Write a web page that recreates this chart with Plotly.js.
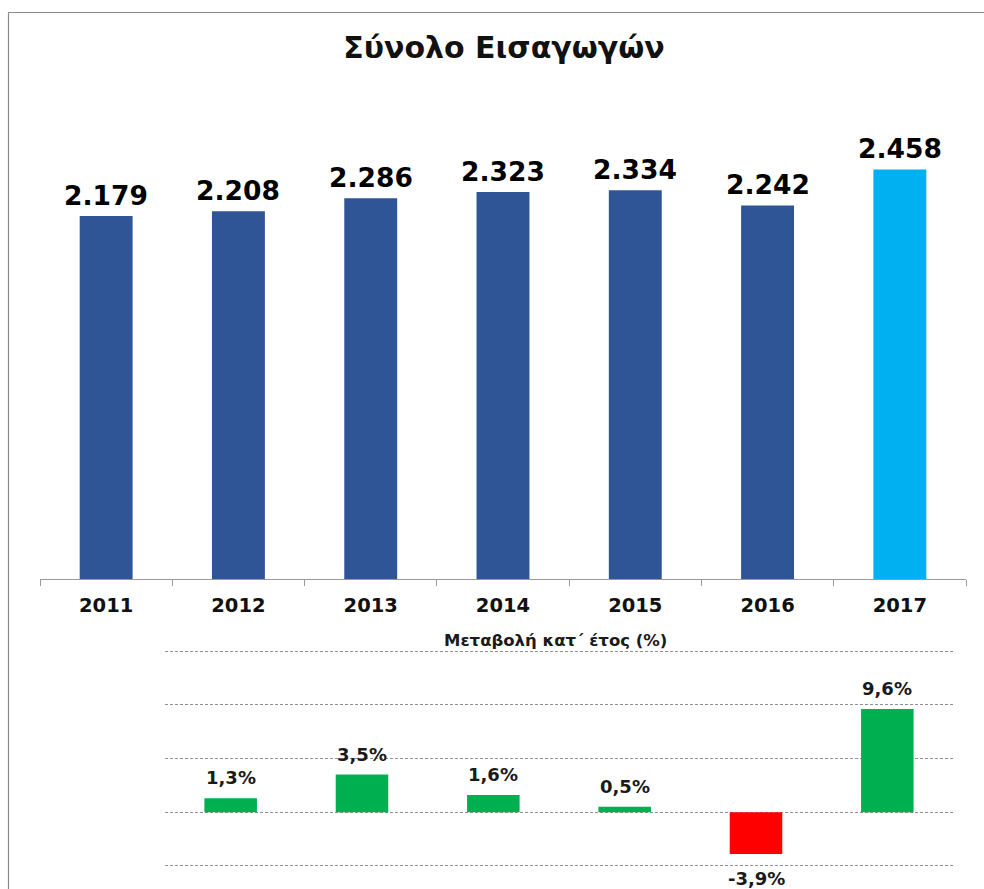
<!DOCTYPE html>
<html>
<head>
<meta charset="utf-8">
<script src="https://cdn.plot.ly/plotly-3.0.1.min.js"></script>
<style>
html,body{margin:0;padding:0;background:#fff;}
#chart{width:984px;height:889px;}
</style>
</head>
<body>
<div id="chart"></div>
<script>
// Data
const years = ["2011","2012","2013","2014","2015","2016","2017"];
const imports = [2179, 2208, 2286, 2323, 2334, 2242, 2458];
const importLabels = ["2.179","2.208","2.286","2.323","2.334","2.242","2.458"];
const changeYears = ["2012","2013","2014","2015","2016","2017"];
const changePct = [1.3, 3.5, 1.6, 0.5, -3.9, 9.6];
const changeLabels = ["1,3%","3,5%","1,6%","0,5%","-3,9%","9,6%"];

const W = 984, H = 889;
const px = x => x / W;
const py = y => (H - y) / H;

const DARK = "#2F5597", LIGHT = "#00B0F0", GREEN = "#00B050", RED = "#FF0000";
const lastIdx = years.length - 1;

const traces = [
  {
    type: "bar", x: years, y: imports, xaxis: "x", yaxis: "y",
    marker: {color: years.map((_, i) => i === lastIdx ? LIGHT : DARK)},
    hoverinfo: "skip", showlegend: false
  },
  {
    type: "bar", x: changeYears, y: changePct, xaxis: "x2", yaxis: "y2",
    marker: {color: changePct.map(v => v < 0 ? RED : GREEN)},
    hoverinfo: "skip", showlegend: false
  }
];

const annotations = [];
years.forEach((yr, i) => {
  annotations.push({
    x: i, y: imports[i], xref: "x", yref: "y", text: "<b>" + importLabels[i] + "</b>",
    showarrow: false, yanchor: "bottom", yshift: 3,
    font: {family: "DejaVu Sans", size: 26.5, color: "#000"}
  });
});
changeYears.forEach((yr, i) => {
  const neg = changePct[i] < 0;
  annotations.push({
    x: i, y: changePct[i], xref: "x2", yref: "y2", text: "<b>" + changeLabels[i] + "</b>",
    showarrow: false, yanchor: neg ? "top" : "bottom", yshift: neg ? -12 : 8,
    font: {family: "DejaVu Sans", size: 18, color: "#1a1a1a"}
  });
});
annotations.push({
  x: px(555), y: py(641), xref: "paper", yref: "paper", text: "<b>Μεταβολή κατ΄ έτος (%)</b>",
  showarrow: false, xanchor: "center", yanchor: "middle",
  font: {family: "DejaVu Sans", size: 16.5, color: "#1a1a1a"}
});

const layout = {
  width: W, height: H,
  margin: {l: 0, r: 0, t: 0, b: 0},
  paper_bgcolor: "#fff", plot_bgcolor: "rgba(0,0,0,0)",
  title: {
    text: "<b>Σύνολο Εισαγωγών</b>",
    x: px(504), xanchor: "center", xref: "paper",
    y: py(47), yanchor: "middle", yref: "paper",
    font: {family: "DejaVu Sans", size: 30, color: "#111"}
  },
  bargap: 0.6,
  xaxis: {
    domain: [px(40), px(966)], anchor: "y", type: "category",
    range: [-0.5, years.length - 0.5], autorange: false,
    showline: true, linecolor: "#9a9a9a", linewidth: 1,
    ticks: "outside", tickson: "boundaries", ticklen: 6, tickcolor: "#9a9a9a",
    ticklabelstandoff: 9,
    showgrid: false, zeroline: false, tickangle: 0,
    tickfont: {family: "DejaVu Sans", size: 19.5, color: "#111", weight: "bold"},
    fixedrange: true
  },
  yaxis: {
    domain: [py(579), py(129)], anchor: "x", range: [0, 2701], autorange: false,
    visible: false, showgrid: false, zeroline: false, fixedrange: true
  },
  xaxis2: {
    domain: [px(165), px(953)], anchor: "y2", type: "category",
    range: [-0.5, changeYears.length - 0.5], autorange: false,
    showline: false, showticklabels: false, ticks: "", showgrid: false, zeroline: false,
    fixedrange: true
  },
  yaxis2: {
    domain: [py(869.15), py(647.85)], anchor: "x2", range: [-5.3, 15.3], autorange: false, dtick: 5, tick0: 0,
    showgrid: true, gridcolor: "#8f8f8f", gridwidth: 1, griddash: "3px,2px",
    zeroline: false, showticklabels: false, ticks: "", showline: false, fixedrange: true
  },
  annotations: annotations,
  shapes: [
    {type: "line", xref: "paper", yref: "paper", x0: px(8.5), x1: 1, y0: py(12.5), y1: py(12.5),
     line: {color: "#8a8a8a", width: 1.2}},
    {type: "line", xref: "paper", yref: "paper", x0: px(8.5), x1: px(8.5), y0: py(12.5), y1: 0,
     line: {color: "#8a8a8a", width: 1.2}}
  ]
};

Plotly.newPlot("chart", traces, layout, {displayModeBar: false, staticPlot: true});
</script>
</body>
</html>
